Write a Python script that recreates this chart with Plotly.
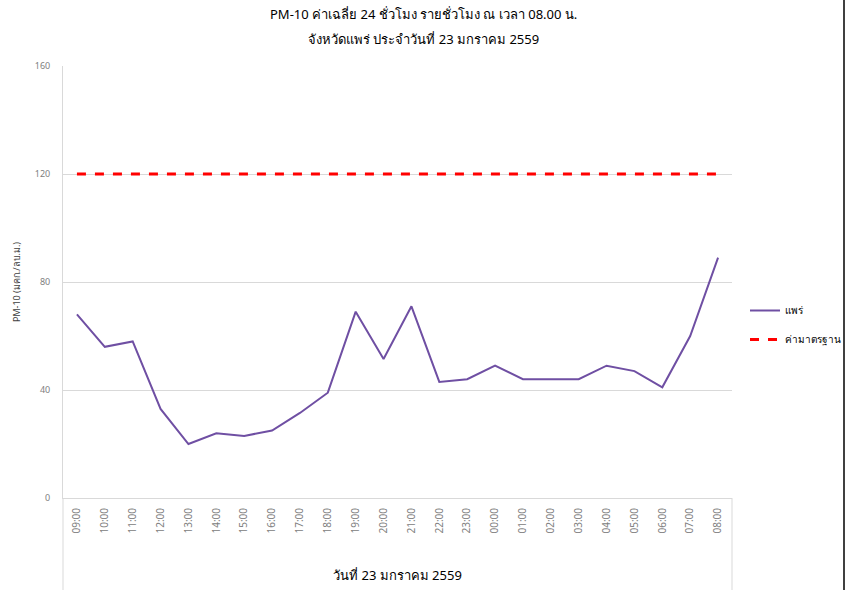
import plotly.graph_objects as go

hours = ["09:00", "10:00", "11:00", "12:00", "13:00", "14:00", "15:00", "16:00",
         "17:00", "18:00", "19:00", "20:00", "21:00", "22:00", "23:00", "00:00",
         "01:00", "02:00", "03:00", "04:00", "05:00", "06:00", "07:00", "08:00"]
phrae = [68, 56, 58, 33, 20, 24, 23, 25, 31.5, 39, 69, 51.5, 71, 43, 44, 49,
         44, 44, 44, 49, 47, 41, 60, 89]
standard = [120] * len(hours)

series_names = ["แพร่", "ค่ามาตรฐาน"]
title_lines = ["PM-10 ค่าเฉลี่ย 24 ชั่วโมง รายชั่วโมง ณ เวลา 08.00 น.",
               "จังหวัดแพร่ ประจำวันที่ 23 มกราคม 2559"]
x_title = "วันที่ 23 มกราคม 2559"
y_title = "PM-10 (มคก./ลบ.ม.)"
y_ticks = [0, 40, 80, 120, 160]

FONT = "Tahoma, 'Noto Sans', 'DejaVu Sans', sans-serif"
W, H = 847.0, 590.0
PW = 669.0  # plot width in px
PH = 432.0  # plot height in px

fig = go.Figure()
fig.add_trace(go.Scatter(x=hours, y=phrae, mode="lines", name=series_names[0],
                         legendgroup="a",
                         line=dict(color="#6F4FA3", width=2)))
fig.add_trace(go.Scatter(x=hours, y=standard, mode="lines", name=series_names[1],
                         legendgroup="b",
                         line=dict(color="#FF0000", width=3, dash="dash")))

fig.update_layout(
    width=847, height=590, autosize=False,
    margin=dict(l=63, r=115, t=66, b=92),
    paper_bgcolor="white", plot_bgcolor="white",
    font=dict(family=FONT, size=10, color="#404040"),
    showlegend=True,
    legend=dict(xref="container", yref="container",
                x=745 / W, y=1 - 325 / H, xanchor="left", yanchor="middle",
                font=dict(size=10, color="#000000"),
                traceorder="grouped", tracegroupgap=10,
                itemwidth=30, bgcolor="rgba(0,0,0,0)"),
    xaxis=dict(type="category", range=[-0.5, 23.5], tickangle=-90,
               automargin=False,
               showgrid=False, showline=True, linecolor="#D9D9D9",
               ticks="", ticklabelstandoff=5,
               tickfont=dict(size=10, color="#808080"),
               title=dict(text=x_title, font=dict(size=13, color="#000000"),
                          standoff=38)),
    yaxis=dict(range=[0, 160], tickvals=y_ticks, showgrid=True,
               automargin=False,
               gridcolor="#D9D9D9", zeroline=False, showline=True,
               linecolor="#D9D9D9", ticks="", ticklabelstandoff=10,
               tickfont=dict(size=9, color="#808080"),
               title=dict(text=y_title, font=dict(size=9, color="#404040"),
                          standoff=12)),
)

fig.add_annotation(text=title_lines[0], xref="paper", yref="paper",
                   x=(423 - 63) / PW, y=1, xanchor="center", yanchor="middle",
                   yshift=66 - 14, showarrow=False,
                   font=dict(size=13, color="#000000"))
fig.add_annotation(text=title_lines[1], xref="paper", yref="paper",
                   x=(423 - 63) / PW, y=1, xanchor="center", yanchor="middle",
                   yshift=66 - 39, showarrow=False,
                   font=dict(size=13, color="#000000"))

# frame decorations
fig.add_shape(type="line", xref="paper", yref="paper", x0=0, x1=0, y0=0, y1=-92 / PH,
              line=dict(color="#D9D9D9", width=1))
fig.add_shape(type="line", xref="paper", yref="paper", x0=1, x1=1, y0=0, y1=-92 / PH,
              line=dict(color="#D9D9D9", width=1))
fig.add_shape(type="line", xref="paper", yref="paper",
              x0=(844 - 63) / PW, x1=(844 - 63) / PW, y0=-92 / PH, y1=1 + 66 / PH,
              line=dict(color="#404040", width=2))

post = ("document.documentElement.style.overflow='hidden';"
        "document.body.style.overflow='hidden';"
        "document.body.style.margin='0px';"
        "var gd=document.getElementById('{plot_id}');"
        "Plotly.relayout(gd,{width:847,height:590});")

fig.write_html("out.html", post_script=post,
               config={"displayModeBar": False, "responsive": False})
